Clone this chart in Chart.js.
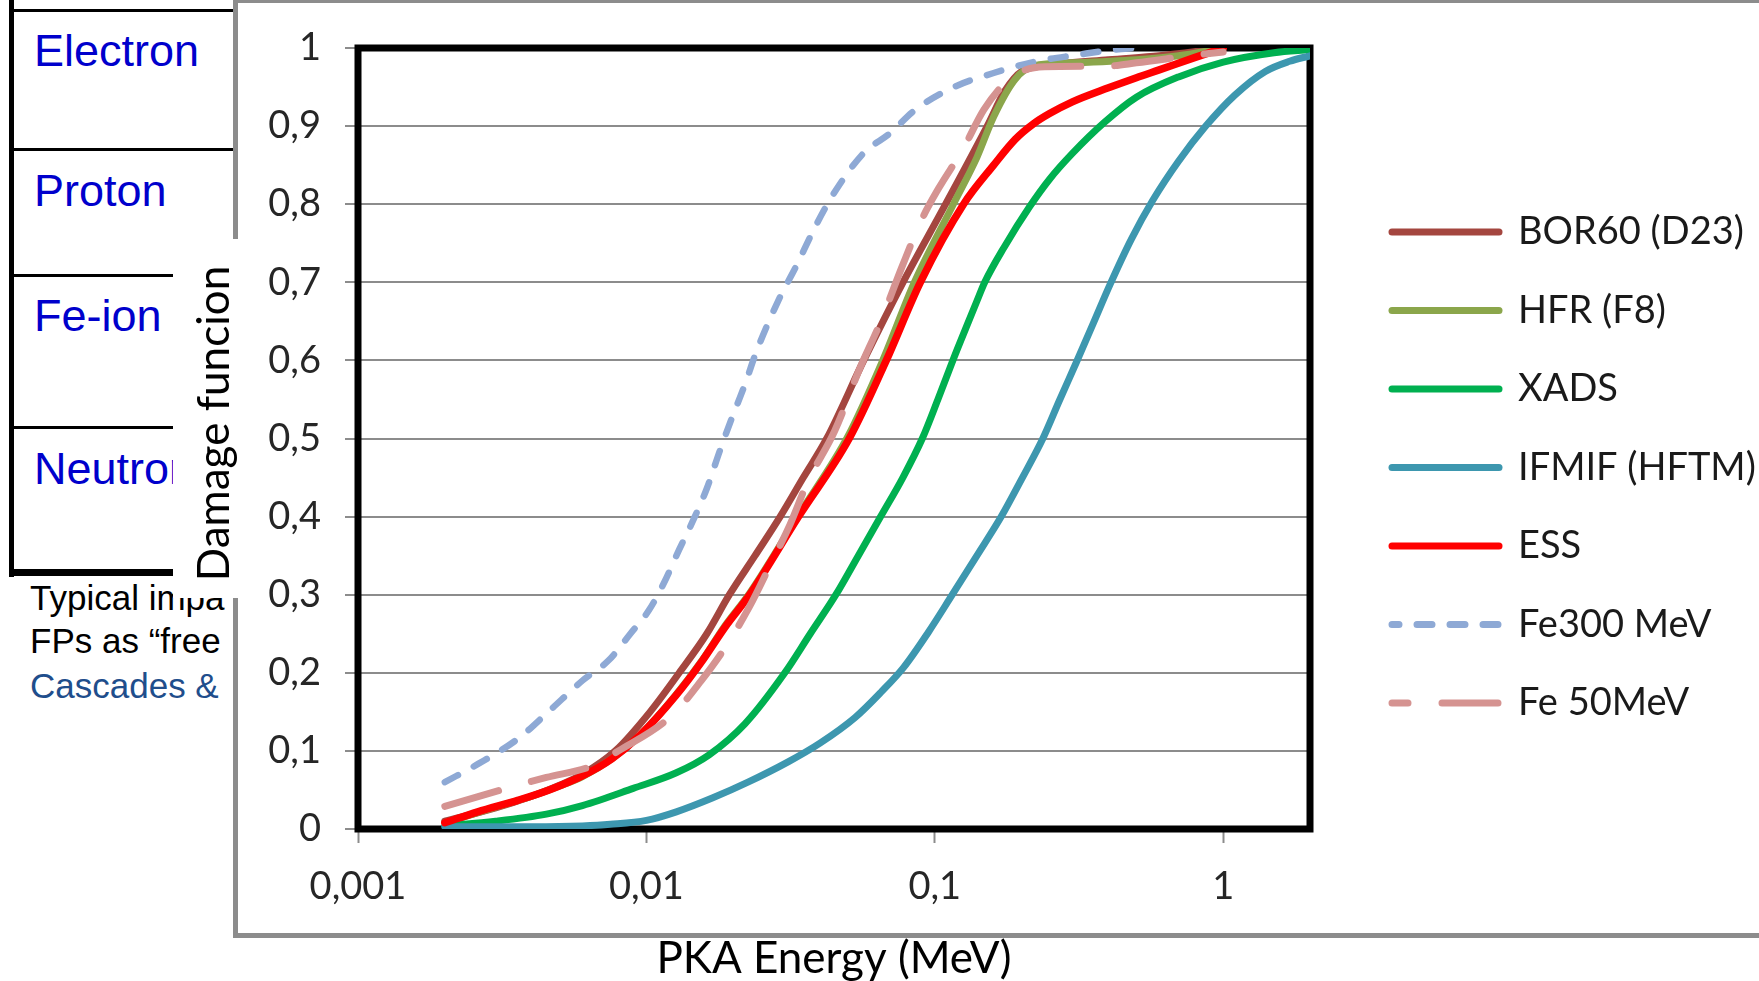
<!DOCTYPE html>
<html>
<head>
<meta charset="utf-8">
<script src="https://cdn.jsdelivr.net/npm/chart.js@4.4.1/dist/chart.umd.min.js"></script>
<style>
html,body{margin:0;padding:0;background:#fff;}
body{width:1759px;height:981px;position:relative;overflow:hidden;}
.ln{position:absolute;background:#000;z-index:1;}
.cell{position:absolute;left:34px;font-family:'Liberation Sans',Arial,sans-serif;font-size:45px;line-height:45px;color:#0000CC;white-space:nowrap;z-index:1;}
.note{position:absolute;left:30px;font-family:'Liberation Sans',Arial,sans-serif;font-size:35px;line-height:35px;color:#000;white-space:nowrap;z-index:1;}
#box{position:absolute;left:233px;top:-2px;width:1600px;height:930px;border:5px solid #8c8c8c;background:#fff;z-index:2;}
#mask{position:absolute;left:173px;top:239px;width:70px;height:359px;background:#fff;z-index:3;}
#c{position:absolute;left:0;top:0;z-index:5;}
</style>
</head>
<body>
<!-- slide table behind the chart -->
<div class="ln" style="left:9px;top:0;width:5px;height:577px;"></div>
<div class="ln" style="left:9px;top:9px;width:230px;height:3px;"></div>
<div class="ln" style="left:9px;top:148px;width:230px;height:3px;"></div>
<div class="ln" style="left:9px;top:274px;width:230px;height:3px;"></div>
<div class="ln" style="left:9px;top:426px;width:230px;height:3px;"></div>
<div class="ln" style="left:9px;top:569px;width:230px;height:7px;"></div>
<div class="cell" style="top:28px;">Electron</div>
<div class="cell" style="top:168px;">Proton</div>
<div class="cell" style="top:293px;">Fe-ion</div>
<div class="cell" style="top:446px;">Neutron</div>
<div class="note" style="top:580px;">Typical impa</div>
<div class="note" style="top:623px;">FPs as “free</div>
<div class="note" style="top:668px;color:#1F4E8C;">Cascades &amp;</div>

<div id="box"></div>
<div id="mask"></div>
<canvas id="c" width="1759" height="981"></canvas>

<script>
// ---------------- data ----------------
const seriesLabels = ['BOR60 (D23)', 'HFR (F8)', 'XADS', 'IFMIF (HFTM)', 'ESS', 'Fe300 MeV', 'Fe 50MeV'];

const bor60E = [0.002,0.003,0.004,0.005,0.006,0.0078,0.0103,0.013,0.0162,0.0194,0.0238,0.0291,0.035,0.0422,0.0567,0.0776,0.109,0.152,0.175,0.2,0.25,0.4,0.6,1];
const bor60V = [0.01,0.027,0.042,0.056,0.07,0.1,0.15,0.2,0.25,0.3,0.35,0.4,0.45,0.5,0.6,0.7,0.8,0.9,0.945,0.97,0.978,0.985,0.99,1.0];

const hfrE = [0.002,0.003,0.004,0.005,0.006,0.0076,0.0095,0.0126,0.0156,0.0187,0.0228,0.0337,0.05,0.066,0.085,0.116,0.14,0.16,0.19,0.22,0.3,0.5,0.7,1];
const hfrV = [0.008,0.028,0.042,0.055,0.067,0.09,0.12,0.171,0.216,0.26,0.302,0.402,0.503,0.6,0.7,0.8,0.86,0.912,0.96,0.977,0.981,0.985,0.99,1.0];

const xadsE = [0.002,0.003,0.0045,0.006,0.009,0.0127,0.0165,0.022,0.0302,0.037,0.0454,0.0543,0.0649,0.0775,0.0905,0.1025,0.1155,0.131,0.14,0.149,0.174,0.2134,0.25,0.3,0.388,0.5,0.7,1,1.5,2];
const xadsV = [0.004,0.01,0.019,0.03,0.052,0.072,0.095,0.135,0.2,0.25,0.3,0.35,0.4,0.45,0.5,0.55,0.6,0.65,0.676,0.7,0.745,0.797,0.832,0.865,0.905,0.937,0.963,0.982,0.994,0.998];

const ifmifE = [0.002,0.004,0.006,0.0075,0.01,0.0127,0.017,0.0225,0.031,0.04,0.053,0.065,0.078,0.095,0.115,0.14,0.17,0.2,0.237,0.27,0.31,0.355,0.405,0.48,0.57,0.7,0.87,1.1,1.4,1.7,2];
const ifmifV = [0.003,0.003,0.004,0.006,0.011,0.022,0.04,0.06,0.086,0.11,0.143,0.175,0.207,0.252,0.3,0.35,0.4,0.448,0.5,0.548,0.598,0.648,0.697,0.755,0.805,0.855,0.9,0.94,0.97,0.983,0.99];

const essE = [0.002,0.0026,0.0036,0.0046,0.006,0.0076,0.0095,0.0126,0.0156,0.0187,0.0228,0.0337,0.0505,0.0679,0.0891,0.1258,0.16,0.19,0.22,0.25,0.3,0.4,0.5,0.6,0.8,1];
const essV = [0.008,0.022,0.037,0.05,0.068,0.09,0.12,0.17,0.215,0.258,0.3,0.4,0.5,0.6,0.7,0.8,0.85,0.883,0.903,0.916,0.931,0.949,0.962,0.972,0.988,1.0];

const fe300E = [0.002,0.0026,0.0036,0.0046,0.006,0.0074,0.0088,0.0102,0.0115,0.013,0.0146,0.0162,0.018,0.0195,0.022,0.024,0.0287,0.033,0.038,0.044,0.0565,0.07,0.085,0.115,0.16,0.226,0.31,0.42,0.5];
const fe300V = [0.06,0.083,0.116,0.151,0.19,0.216,0.25,0.28,0.315,0.358,0.397,0.436,0.485,0.52,0.57,0.61,0.677,0.72,0.767,0.81,0.865,0.891,0.92,0.949,0.968,0.983,0.991,0.998,1.0];

const fe50E = [0.002,0.0032,0.0045,0.0065,0.008,0.0123,0.0155,0.0188,0.0228,0.0268,0.0315,0.0363,0.045,0.055,0.065,0.077,0.09,0.103,0.125,0.148,0.175,0.2,0.24,0.4,0.5,0.8,1];
const fe50V = [0.029,0.051,0.066,0.081,0.1,0.146,0.19,0.233,0.285,0.337,0.39,0.445,0.51,0.59,0.65,0.72,0.78,0.82,0.87,0.921,0.955,0.97,0.976,0.977,0.981,0.991,0.995];

const xTickValues = [0.001, 0.01, 0.1, 1];
const xTickLabels = ['0,001', '0,01', '0,1', '1'];
const yTickValues = [0, 0.1, 0.2, 0.3, 0.4, 0.5, 0.6, 0.7, 0.8, 0.9, 1];
const yTickLabels = ['0', '0,1', '0,2', '0,3', '0,4', '0,5', '0,6', '0,7', '0,8', '0,9', '1'];

// ---------------- styles ----------------
const seriesE = [bor60E, hfrE, xadsE, ifmifE, essE, fe300E, fe50E];
const seriesV = [bor60V, hfrV, xadsV, ifmifV, essV, fe300V, fe50V];
const seriesColors = ['#A4463F', '#8BA64B', '#00B050', '#3D97AF', '#FF0000', '#8EA9D5', '#D59391'];
const seriesWidths = [7, 7, 7, 7, 7.5, 6.5, 7];
const seriesDash = [[], [], [], [], [], [15, 18], [56, 34]];
const legendDashOffset = [0, 0, 0, 0, 0, 8, 40];
const drawOrder = [7, 6, 5, 4, 3, 2, 1];

Chart.defaults.font.family = "Lato, 'Open Sans', sans-serif";

const datasets = seriesLabels.map((label, i) => ({
  label: label,
  data: seriesE[i].map((e, j) => ({ x: e, y: seriesV[i][j] })),
  borderColor: seriesColors[i],
  backgroundColor: seriesColors[i],
  borderWidth: seriesWidths[i],
  borderDash: seriesDash[i],
  borderCapStyle: 'round',
  borderJoinStyle: 'round',
  pointRadius: 0,
  pointHoverRadius: 0,
  cubicInterpolationMode: 'monotone',
  fill: false,
  order: drawOrder[i]
}));

const plotFrame = {
  id: 'plotFrame',
  beforeDatasetsDraw(chart, args, opts) {
    const { ctx, chartArea: a } = chart;
    ctx.save();
    ctx.strokeStyle = opts.color;
    ctx.lineWidth = opts.width;
    ctx.strokeRect(a.left, a.top, a.right - a.left, a.bottom - a.top);
    ctx.restore();
  }
};

// places the legend block to the right of the plot; nudges the y title only while axes are drawn
const layoutTweaks = {
  id: 'layoutTweaks',
  afterLayout(chart, args, opts) {
    const lg = chart.legend;
    if (lg) {
      lg.left = opts.legendLeft;
      lg.top = opts.legendTop;
      lg.right = chart.width;
      lg.bottom = chart.height;
      lg.width = lg.right - lg.left;
      lg.height = lg.bottom - lg.top;
    }
  },
  beforeDraw(chart, args, opts) {
    const ys = chart.scales.y;
    if (ys) { ys.top -= opts.yTitleShift; ys.bottom -= opts.yTitleShift; }
  },
  beforeDatasetsDraw(chart, args, opts) {
    const ys = chart.scales.y;
    if (ys) { ys.top += opts.yTitleShift; ys.bottom += opts.yTitleShift; }
  }
};

new Chart(document.getElementById('c'), {
  type: 'line',
  data: { datasets: datasets },
  plugins: [plotFrame, layoutTweaks],
  options: {
    responsive: false,
    devicePixelRatio: 1,
    animation: false,
    events: [],
    layout: { padding: { left: 195, top: 48, right: 449, bottom: 0 } },
    scales: {
      x: {
        type: 'logarithmic',
        min: 0.001,
        max: 2,
        afterBuildTicks: (s) => { s.ticks = xTickValues.map(v => ({ value: v })); },
        afterFit: (s) => { s.height = 152; },
        ticks: {
          callback: (v, i) => xTickLabels[i],
          font: { size: 38 },
          color: '#262626',
          padding: 21,
          maxRotation: 0,
          autoSkip: false
        },
        grid: { display: true, drawOnChartArea: false, drawTicks: true, tickLength: 14, tickColor: '#8c8c8c', tickWidth: 2 },
        border: { display: false },
        title: { display: true, text: 'PKA Energy (MeV)', font: { size: 44, lineHeight: 0.9 }, color: '#000', padding: { top: 0, bottom: 2 } }
      },
      y: {
        type: 'linear',
        min: 0,
        max: 1,
        afterBuildTicks: (s) => { s.ticks = yTickValues.map(v => ({ value: v })); },
        afterFit: (s) => { s.width = 163; },
        ticks: {
          callback: (v, i) => yTickLabels[i],
          font: { size: 38 },
          color: '#262626',
          padding: 24
        },
        grid: { color: '#8c8c8c', lineWidth: 2, drawTicks: true, tickLength: 13, tickColor: '#8c8c8c', tickWidth: 2 },
        border: { display: false },
        title: { display: true, text: 'Damage funcion', font: { size: 44, lineHeight: 0.9 }, color: '#000', padding: { top: 0, bottom: 0 } }
      }
    },
    plugins: {
      tooltip: { enabled: false },
      plotFrame: { color: '#000', width: 7 },
      layoutTweaks: { legendLeft: 1351.5, legendTop: 172.5, yTitleShift: 15 },
      legend: {
        display: true,
        position: 'chartArea',
        align: 'start',
        labels: {
          usePointStyle: true,
          pointStyle: 'line',
          pointStyleWidth: 107,
          boxHeight: 10,
          padding: 40.5,
          color: '#1a1a1a',
          font: { size: 38 },
          sort: (a, b) => a.datasetIndex - b.datasetIndex,
          generateLabels: (chart) => {
            const items = Chart.defaults.plugins.legend.labels.generateLabels(chart);
            items.forEach(it => {
              const ds = chart.data.datasets[it.datasetIndex];
              it.lineDash = ds.borderDash;
              it.lineDashOffset = legendDashOffset[it.datasetIndex];
              it.lineWidth = 7;
              it.strokeStyle = ds.borderColor;
              it.lineCap = 'round';
            });
            return items;
          }
        }
      }
    }
  }
});
</script>
</body>
</html>
